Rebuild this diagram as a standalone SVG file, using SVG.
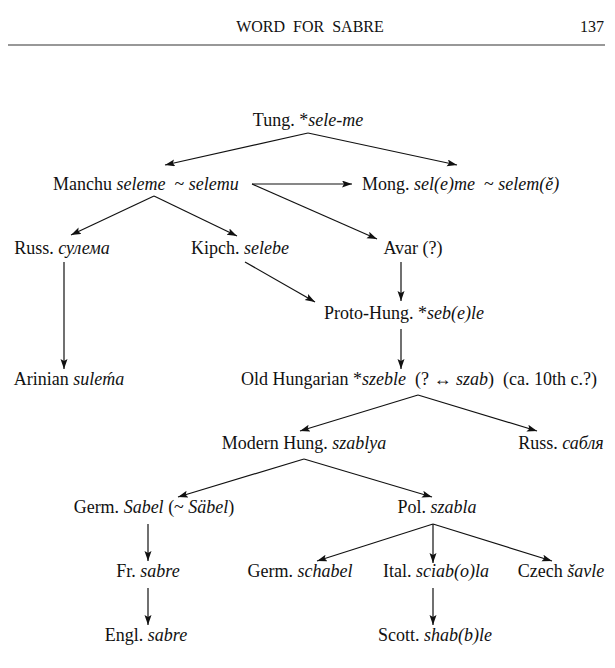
<svg xmlns="http://www.w3.org/2000/svg" width="615" height="668" viewBox="0 0 615 668">
<style>
text{font-family:"Liberation Serif","DejaVu Serif",serif;font-size:18px;fill:#111}
.i{font-style:italic}
.m{text-anchor:middle}
.hd{font-size:16px}
.c line{stroke:#111;stroke-width:1.2;marker-end:url(#a)}
</style>
<defs>
<marker id="a" markerWidth="11" markerHeight="8" refX="10" refY="3.5" orient="auto" markerUnits="userSpaceOnUse">
<path d="M0,0 L10,3.5 L0,7 L2,3.5 z" fill="#111"/>
</marker>
</defs>
<rect width="615" height="668" fill="#fff"/>
<g id="header">
<text class="hd m" x="310" y="32" xml:space="preserve">WORD  FOR  SABRE</text>
<text class="hd" x="604" y="32" text-anchor="end">137</text>
<line x1="8" y1="45" x2="605" y2="45" stroke="#333" stroke-width="1.2"/>
</g>
<g id="tung"><text class="m" x="308" y="126">Tung. *<tspan class="i">sele-me</tspan></text></g>
<g id="manchu"><text x="53" y="190" xml:space="preserve">Manchu <tspan class="i">seleme</tspan>  ~ <tspan class="i">selemu</tspan></text></g>
<g id="mong"><text x="362" y="190" xml:space="preserve">Mong. <tspan class="i">sel(e)me</tspan>  ~ <tspan class="i">selem(ě)</tspan></text></g>
<g id="russ1"><text class="m" x="62" y="254">Russ. <tspan class="i">сулема</tspan></text></g>
<g id="kipch"><text class="m" x="240" y="254">Kipch. <tspan class="i">selebe</tspan></text></g>
<g id="avar"><text class="m" x="413" y="254">Avar (?)</text></g>
<g id="proto"><text class="m" x="404" y="319">Proto-Hung. *<tspan class="i">seb(e)le</tspan></text></g>
<g id="arinian"><text class="m" x="69" y="385">Arinian <tspan class="i">suleḿa</tspan></text></g>
<g id="oldhung"><text x="241" y="385" xml:space="preserve">Old Hungarian *<tspan class="i">szeble</tspan>  (? ↔ <tspan class="i">szab</tspan>)  (ca. 10th c.?)</text></g>
<g id="modern"><text class="m" x="304" y="449">Modern Hung. <tspan class="i">szablya</tspan></text></g>
<g id="russ2"><text class="m" x="561" y="449">Russ. <tspan class="i">сабля</tspan></text></g>
<g id="germ1"><text class="m" x="154" y="513">Germ. <tspan class="i">Sabel</tspan> (~ <tspan class="i">Säbel</tspan>)</text></g>
<g id="pol"><text class="m" x="437" y="513">Pol. <tspan class="i">szabla</tspan></text></g>
<g id="fr"><text class="m" x="148" y="577">Fr. <tspan class="i">sabre</tspan></text></g>
<g id="germ2"><text class="m" x="300" y="577">Germ. <tspan class="i">schabel</tspan></text></g>
<g id="ital"><text class="m" x="436" y="577">Ital. <tspan class="i">sciab(o)la</tspan></text></g>
<g id="czech"><text class="m" x="561" y="577">Czech <tspan class="i">šavle</tspan></text></g>
<g id="engl"><text class="m" x="146" y="641">Engl. <tspan class="i">sabre</tspan></text></g>
<g id="scott"><text class="m" x="435" y="641">Scott. <tspan class="i">shab(b)le</tspan></text></g>
<g id="connectors" class="c">
<line x1="308" y1="133" x2="165" y2="165"/>
<line x1="308" y1="133" x2="457" y2="165"/>
<line x1="252" y1="184" x2="352" y2="184"/>
<line x1="252" y1="184" x2="377" y2="239"/>
<line x1="154" y1="196" x2="71" y2="235"/>
<line x1="154" y1="196" x2="237" y2="236"/>
<line x1="64" y1="262" x2="64" y2="369"/>
<line x1="245" y1="262" x2="315" y2="302"/>
<line x1="401" y1="262" x2="401" y2="301"/>
<line x1="401" y1="329" x2="401" y2="369"/>
<line x1="418" y1="395" x2="300" y2="431"/>
<line x1="418" y1="395" x2="537" y2="431"/>
<line x1="304" y1="459" x2="178" y2="497"/>
<line x1="304" y1="459" x2="432" y2="497"/>
<line x1="148" y1="524" x2="148" y2="561"/>
<line x1="433" y1="524" x2="317" y2="561"/>
<line x1="433" y1="524" x2="433" y2="563"/>
<line x1="433" y1="524" x2="552" y2="561"/>
<line x1="148" y1="588" x2="148" y2="625"/>
<line x1="433" y1="588" x2="433" y2="625"/>
</g>
</svg>
